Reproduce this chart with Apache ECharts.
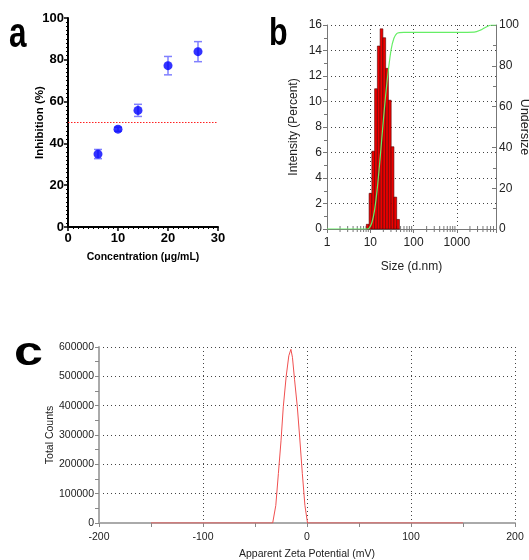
<!DOCTYPE html>
<html>
<head>
<meta charset="utf-8">
<script src="https://cdn.jsdelivr.net/npm/echarts@6/dist/echarts.min.js"></script>
<style>html,body{margin:0;padding:0;background:#fff;}#chart{width:529px;height:560px;}</style>
</head>
<body>
<div id="chart"></div>
<script>
// ---- Panel a: inhibition vs concentration ----
const aConc = [6, 10, 14, 20, 26];
const aInhib = [34.9, 46.8, 55.8, 77.2, 83.9];
const aErr = [2.2, 1.0, 2.9, 4.4, 4.8];
const aThresholdX = [0, 30];
const aThresholdY = [50, 50];

// ---- Panel b: size distribution ----
const bBinEdges = [8.1, 9.38, 10.86, 12.58, 14.57, 16.87, 19.53, 22.62, 26.19, 30.33, 35.12, 40.67, 47.1];
const bIntensity = [0.37, 2.8, 6.1, 11.0, 14.35, 15.7, 15.0, 12.6, 10.1, 6.45, 2.5, 0.75];
const bUnderX = [1, 8.5, 9.4, 10.9, 12.6, 14.6, 16.9, 19.5, 22.6, 26.2, 30.3, 35.1, 40.7, 47.1, 60, 100, 1000, 2500, 3500, 5000, 6500, 8000];
const bUnderY = [0, 0, 0.4, 3.2, 9.5, 20.5, 35, 50.5, 65.5, 78, 88, 93.5, 95.8, 96.3, 96.4, 96.4, 96.4, 96.5, 97.5, 99.3, 100, 100];
const bMinorTicks = [2,3,4,5,6,7,8,9,20,30,40,50,60,70,80,90,200,300,400,500,600,700,800,900,2000,3000,4000,5000,6000,7000];

// ---- Panel c: zeta potential ----
const cZeta = [-150, -33, -30, -27.5, -25, -22.8, -20, -17.5, -15.5, -14, -12, -9.3, -7, -4.5, -2, 0.5, 150];
const cCounts = [0, 0, 60000, 169000, 280000, 396000, 500000, 570000, 592000, 565000, 490000, 396000, 290000, 169000, 60000, 0, 0];

const sans = '"Liberation Sans", Arial, sans-serif';

const chart = echarts.init(document.getElementById('chart'), null, {renderer: 'canvas'});

const aBold = {fontFamily: sans, fontWeight: 'bold', color: '#000'};
const bText = {fontFamily: sans, color: '#222'};
const dotted = {type: [1, 3], color: '#444', width: 1};

const option = {
  animation: false,
  backgroundColor: '#fff',
  grid: [
    {left: 68, top: 18, width: 150, height: 209, outerBoundsMode: 'none'},
    {left: 327, top: 25, width: 169, height: 204, outerBoundsMode: 'none'},
    {left: 99, top: 347, width: 416, height: 176, outerBoundsMode: 'none'}
  ],
  graphic: [
    {type: 'text', left: 9, top: 14, scaleX: 0.75, style: {text: 'a', font: 'bold 42px ' + sans, fill: '#000'}},
    {type: 'text', left: 269, top: 15, scaleX: 0.78, style: {text: 'b', font: 'bold 39px ' + sans, fill: '#000'}},
    {type: 'text', left: 14, top: 334, scaleX: 1.3, style: {text: 'c', font: 'bold 40px ' + sans, fill: '#000'}}
  ],
  xAxis: [
    {
      gridIndex: 0, type: 'value', min: 0, max: 30, interval: 10,
      axisLine: {onZero: false, lineStyle: {color: '#000', width: 2}},
      axisTick: {length: 4, lineStyle: {color: '#000', width: 1.5}},
      minorTick: {show: true, splitNumber: 10, length: 2, lineStyle: {color: '#000', width: 1}},
      splitLine: {show: false},
      axisLabel: Object.assign({fontSize: 13, margin: 5}, aBold),
      name: 'Concentration (μg/mL)', nameLocation: 'middle', nameGap: 25, nameMoveOverlap: false,
      nameTextStyle: Object.assign({fontSize: 10.5}, aBold)
    },
    {
      gridIndex: 1, type: 'log', logBase: 10, min: 1, max: 8000,
      axisLine: {onZero: false, lineStyle: {color: '#777', width: 1}},
      axisTick: {length: 4, inside: false, lineStyle: {color: '#777'}},
      minorTick: {show: false},
      splitLine: {show: true, lineStyle: dotted},
      axisLabel: Object.assign({fontSize: 12, margin: 8, formatter: function (v) {
        const l = Math.log10(v);
        return (Math.abs(l - Math.round(l)) < 1e-6 && v < 5000) ? String(Math.round(v)) : '';
      }}, bText),
      name: 'Size (d.nm)', nameLocation: 'middle', nameGap: 32, nameMoveOverlap: false,
      nameTextStyle: Object.assign({fontSize: 12}, bText)
    },
    {
      gridIndex: 2, type: 'value', min: -200, max: 200, interval: 100,
      axisLine: {onZero: false, lineStyle: {color: '#aaa', width: 2}},
      axisTick: {length: 4, lineStyle: {color: '#888'}},
      minorTick: {show: true, splitNumber: 2, length: 4, lineStyle: {color: '#888'}},
      splitLine: {show: true, lineStyle: dotted},
      axisLabel: Object.assign({fontSize: 10.5, margin: 9, formatter: v => String(v)}, bText),
      name: 'Apparent Zeta Potential (mV)', nameLocation: 'middle', nameGap: 26, nameMoveOverlap: false,
      nameTextStyle: Object.assign({fontSize: 10.5}, bText)
    }
  ],
  yAxis: [
    {
      gridIndex: 0, type: 'value', min: 0, max: 100, interval: 20,
      axisLine: {show: true, onZero: false, lineStyle: {color: '#000', width: 2}},
      axisTick: {show: true, length: 4, lineStyle: {color: '#000', width: 1.5}},
      minorTick: {show: true, splitNumber: 10, length: 2, lineStyle: {color: '#000', width: 1}},
      splitLine: {show: false},
      axisLabel: Object.assign({fontSize: 13, margin: 4}, aBold),
      name: 'Inhibition (%)', nameLocation: 'middle', nameGap: 22, nameMoveOverlap: false,
      nameTextStyle: Object.assign({fontSize: 11.5}, aBold)
    },
    {
      gridIndex: 1, type: 'value', min: 0, max: 16, interval: 2, position: 'left',
      axisLine: {show: true, onZero: false, lineStyle: {color: '#777', width: 1}},
      axisTick: {show: true, length: 4, lineStyle: {color: '#777'}},
      minorTick: {show: true, splitNumber: 2, length: 3, lineStyle: {color: '#777'}},
      splitLine: {show: true, lineStyle: dotted},
      axisLabel: Object.assign({fontSize: 12, margin: 5}, bText),
      name: 'Intensity (Percent)', nameLocation: 'middle', nameGap: 27, nameMoveOverlap: false,
      nameTextStyle: Object.assign({fontSize: 12}, bText)
    },
    {
      gridIndex: 1, type: 'value', min: 0, max: 100, interval: 20, position: 'right',
      axisLine: {show: true, onZero: false, lineStyle: {color: '#777', width: 1}},
      axisTick: {show: true, inside: true, length: 4, lineStyle: {color: '#777'}},
      minorTick: {show: true, splitNumber: 2, length: 3, lineStyle: {color: '#777'}},
      splitLine: {show: false},
      axisLabel: Object.assign({fontSize: 12, margin: 3}, bText),
      name: 'Undersize', nameLocation: 'middle', nameGap: 22, nameRotate: -90, nameMoveOverlap: false,
      nameTextStyle: Object.assign({fontSize: 12.5}, bText)
    },
    {
      gridIndex: 2, type: 'value', min: 0, max: 600000, interval: 100000,
      axisLine: {show: true, onZero: false, lineStyle: {color: '#aaa', width: 2}},
      axisTick: {show: true, length: 4, lineStyle: {color: '#888'}},
      minorTick: {show: true, splitNumber: 2, length: 4, lineStyle: {color: '#888'}},
      splitLine: {show: true, lineStyle: dotted},
      axisLabel: Object.assign({fontSize: 10.5, margin: 5, formatter: v => String(v)}, bText),
      name: 'Total Counts', nameLocation: 'middle', nameGap: 43, nameMoveOverlap: false,
      nameTextStyle: Object.assign({fontSize: 10.5}, bText)
    }
  ],
  series: [
    {
      type: 'line', xAxisIndex: 0, yAxisIndex: 0, symbol: 'none', silent: true,
      data: aThresholdX.map((x, i) => [x, aThresholdY[i]]),
      lineStyle: {color: '#ff2020', width: 1, type: [1.5, 1.5]}, z: 2
    },
    {
      type: 'custom', xAxisIndex: 0, yAxisIndex: 0, z: 3,
      data: aConc.map((x, i) => [x, aInhib[i], aErr[i]]),
      encode: {x: 0, y: 1},
      renderItem: function (params, api) {
        const x = api.value(0), y = api.value(1), e = api.value(2);
        const top = api.coord([x, y + e]);
        const bot = api.coord([x, y - e]);
        const w = 4;
        const st = {stroke: '#8080ff', lineWidth: 1.5};
        return {type: 'group', children: [
          {type: 'line', shape: {x1: top[0], y1: top[1], x2: bot[0], y2: bot[1]}, style: st},
          {type: 'line', shape: {x1: top[0] - w, y1: top[1], x2: top[0] + w, y2: top[1]}, style: st},
          {type: 'line', shape: {x1: bot[0] - w, y1: bot[1], x2: bot[0] + w, y2: bot[1]}, style: st}
        ]};
      }
    },
    {
      type: 'scatter', xAxisIndex: 0, yAxisIndex: 0, z: 4,
      data: aConc.map((x, i) => [x, aInhib[i]]),
      symbol: 'circle', symbolSize: 9, itemStyle: {color: '#0000ff'}
    },
    {
      type: 'custom', xAxisIndex: 1, yAxisIndex: 1, z: 3,
      data: bIntensity.map((v, i) => [bBinEdges[i], bBinEdges[i + 1], v]),
      encode: {x: [0, 1], y: 2},
      renderItem: function (params, api) {
        const p0 = api.coord([api.value(0), 0]);
        const p1 = api.coord([api.value(1), api.value(2)]);
        return {type: 'rect', shape: {x: p0[0], y: p1[1], width: p1[0] - p0[0], height: p0[1] - p1[1]},
          style: {fill: '#ee0000', stroke: '#500000', lineWidth: 0.6}};
      }
    },
    {
      type: 'custom', xAxisIndex: 1, yAxisIndex: 1, z: 2, silent: true,
      data: bMinorTicks.map(v => [v, 0]),
      encode: {x: 0, y: 1},
      renderItem: function (params, api) {
        const p = api.coord([api.value(0), 0]);
        return {type: 'line', shape: {x1: p[0], y1: p[1] - 3, x2: p[0], y2: p[1] + 3},
          style: {stroke: '#777', lineWidth: 1}};
      }
    },
    {
      type: 'line', xAxisIndex: 1, yAxisIndex: 2, symbol: 'none', smooth: 0.3, z: 5,
      data: bUnderX.map((x, i) => [x, bUnderY[i]]),
      lineStyle: {color: '#66ee66', width: 1.2}
    },
    {
      type: 'line', xAxisIndex: 2, yAxisIndex: 3, symbol: 'none', z: 5,
      data: cZeta.map((x, i) => [x, cCounts[i]]),
      lineStyle: {color: '#f05050', width: 1}
    }
  ]
};
chart.setOption(option);
</script>
</body>
</html>
